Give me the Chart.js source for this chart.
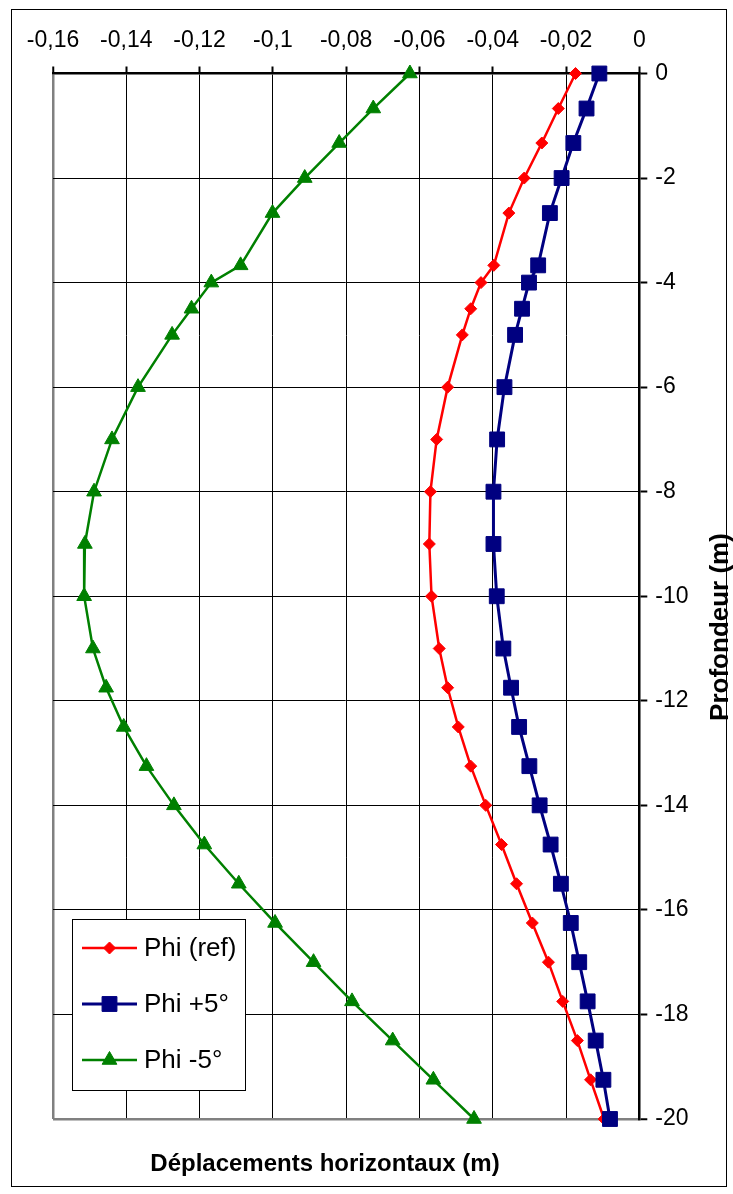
<!DOCTYPE html>
<html lang="fr">
<head>
<meta charset="utf-8">
<title>Déplacements horizontaux</title>
<script src="https://cdn.jsdelivr.net/npm/chart.js@4.4.1/dist/chart.umd.min.js"></script>
<style>
  html, body { margin: 0; padding: 0; background: #fff; }
  #wrap { width: 733px; height: 1194px; position: relative; }
  canvas { display: block; }
</style>
</head>
<body>
<div id="wrap"><canvas id="c" width="733" height="1194"></canvas></div>
<script>
// Profondeur (m) des points de calcul
const profondeurs = [0, -0.67, -1.33, -2, -2.67, -3.67, -4, -4.5, -5, -6, -7, -8, -9, -10, -11,
  -11.75, -12.5, -13.25, -14, -14.75, -15.5, -16.25, -17, -17.75, -18.5, -19.25, -20];

// Déplacements horizontaux (m) pour chaque variante d'angle de frottement
const phiRef = [-0.0174, -0.0221, -0.0266, -0.0314, -0.0356, -0.0397, -0.0432, -0.0460, -0.0483,
  -0.0523, -0.0553, -0.0570, -0.0573, -0.0567, -0.0546, -0.0523, -0.0494, -0.0460, -0.0419,
  -0.0376, -0.0335, -0.0292, -0.0248, -0.0209, -0.0169, -0.0133, -0.0096];
const phiPlus5 = [-0.0109, -0.0144, -0.0180, -0.0212, -0.0244, -0.0276, -0.0301, -0.0320, -0.0339,
  -0.0368, -0.0388, -0.0398, -0.0398, -0.0389, -0.0371, -0.0350, -0.0328, -0.0300, -0.0272,
  -0.0242, -0.0214, -0.0187, -0.0164, -0.0141, -0.0119, -0.0098, -0.0080];
const phiMoins5 = [-0.0626, -0.0726, -0.0819, -0.0913, -0.1001, -0.1088, -0.1168, -0.1222, -0.1275,
  -0.1368, -0.1439, -0.1488, -0.1513, -0.1515, -0.1491, -0.1455, -0.1407, -0.1345, -0.1270,
  -0.1187, -0.1093, -0.0994, -0.0889, -0.0784, -0.0673, -0.0562, -0.0451];

const seriesLabels = ['Phi (ref)', 'Phi +5°', 'Phi -5°'];
const xTitle = 'Déplacements horizontaux (m)';
const yTitle = 'Profondeur (m)';

const toPoints = vals => vals.map((v, i) => ({ x: v, y: profondeurs[i] }));

const FONT = '"Liberation Sans", Arial, Helvetica, sans-serif';

function drawMarker(ctx, style, radius, x, y) {
  if (Chart.helpers && Chart.helpers.drawPoint) {
    Chart.helpers.drawPoint(ctx, { pointStyle: style, radius: radius, rotation: 0, borderWidth: 1 }, x, y);
    return;
  }
  ctx.beginPath();
  if (style === 'rectRot') {
    ctx.moveTo(x, y - radius); ctx.lineTo(x + radius, y); ctx.lineTo(x, y + radius); ctx.lineTo(x - radius, y);
  } else if (style === 'rect') {
    const s = radius * Math.SQRT1_2;
    ctx.rect(x - s, y - s, 2 * s, 2 * s);
  } else {
    ctx.moveTo(x, y - radius);
    ctx.lineTo(x + radius * Math.cos(Math.PI / 6), y + radius / 2);
    ctx.lineTo(x - radius * Math.cos(Math.PI / 6), y + radius / 2);
  }
  ctx.closePath(); ctx.fill(); ctx.stroke();
}

// Cadre, titres des axes et légende encadrée
const decorations = {
  id: 'decorations',
  afterDraw(chart) {
    const ctx = chart.ctx;
    ctx.save();
    // cadre extérieur
    ctx.strokeStyle = '#000';
    ctx.lineWidth = 1;
    ctx.strokeRect(11.5, 9.5, 715, 1177);

    // titres
    ctx.fillStyle = '#000';
    ctx.font = 'bold 24px ' + FONT;
    ctx.textAlign = 'center';
    ctx.textBaseline = 'middle';
    ctx.fillText(xTitle, 325, 1164);
    ctx.save();
    ctx.translate(721, 627);
    ctx.rotate(-Math.PI / 2);
    ctx.font = 'bold 26px ' + FONT;
    ctx.fillText(yTitle, 0, 0);
    ctx.restore();

    // légende
    const bx = 72.5, by = 919.5, bw = 173, bh = 171;
    ctx.fillStyle = '#fff';
    ctx.fillRect(bx, by, bw, bh);
    ctx.strokeStyle = '#000';
    ctx.lineWidth = 1;
    ctx.strokeRect(bx, by, bw, bh);
    const rows = [948, 1004, 1060];
    chart.data.datasets.forEach((ds, i) => {
      const y = rows[i];
      ctx.strokeStyle = ds.borderColor;
      ctx.lineWidth = ds.borderWidth;
      ctx.beginPath();
      ctx.moveTo(82, y);
      ctx.lineTo(137, y);
      ctx.stroke();
      ctx.fillStyle = ds.pointBackgroundColor;
      ctx.strokeStyle = ds.pointBorderColor;
      ctx.lineWidth = 1;
      drawMarker(ctx, ds.pointStyle, ds.pointRadius, 109.5, y);
      ctx.fillStyle = '#000';
      ctx.font = '26px ' + FONT;
      ctx.textAlign = 'left';
      ctx.textBaseline = 'middle';
      ctx.fillText(ds.label, 144, y + 1);
    });
    ctx.restore();
  }
};

const isX = (v, t) => Math.abs(v - t) < 1e-9;

new Chart(document.getElementById('c'), {
  type: 'scatter',
  data: {
    datasets: [
      {
        label: seriesLabels[0], data: toPoints(phiRef), showLine: true,
        borderColor: '#ff0000', borderWidth: 2.5,
        pointStyle: 'rectRot', pointRadius: 6, pointBackgroundColor: '#ff0000', pointBorderColor: '#ff0000',
        pointBorderWidth: 1, clip: false, order: 3
      },
      {
        label: seriesLabels[1], data: toPoints(phiPlus5), showLine: true,
        borderColor: '#000080', borderWidth: 3,
        pointStyle: 'rect', pointRadius: 10.5, pointBackgroundColor: '#000080', pointBorderColor: '#000080',
        pointBorderWidth: 1, clip: false, order: 2
      },
      {
        label: seriesLabels[2], data: toPoints(phiMoins5), showLine: true,
        borderColor: '#008000', borderWidth: 2.5,
        pointStyle: 'triangle', pointRadius: 8.5, pointBackgroundColor: '#008000', pointBorderColor: '#008000',
        pointBorderWidth: 1, clip: false, order: 1
      }
    ]
  },
  options: {
    responsive: false,
    animation: false,
    events: [],
    layout: { padding: { left: 53, top: 0, right: 0, bottom: 75 } },
    plugins: { legend: { display: false }, tooltip: { enabled: false }, title: { display: false } },
    scales: {
      x: {
        type: 'linear', position: 'top', min: -0.16, max: 0,
        ticks: {
          stepSize: 0.02, color: '#000', padding: 12,
          font: { family: FONT, size: 23 },
          maxRotation: 0, autoSkip: false,
          callback: v => { const r = Math.round(v * 100) / 100; return r === 0 ? '0' : String(r).replace('.', ','); }
        },
        grid: {
          drawTicks: true, tickLength: 7, tickColor: '#000', tickWidth: 2,
          color: c => isX(c.tick.value, -0.16) ? '#808080' : '#000',
          lineWidth: c => isX(c.tick.value, -0.16) ? 2.5 : 1
        },
        border: { display: true, color: '#000', width: 2.5 },
        afterFit: s => { s.height = 73.5; }
      },
      y: {
        type: 'linear', position: 'right', min: -20, max: 0,
        ticks: {
          stepSize: 2, color: '#000', padding: 8,
          font: { family: FONT, size: 23 },
          callback: v => String(Math.round(v))
        },
        grid: {
          drawTicks: true, tickLength: 8, tickColor: '#000', tickWidth: 2,
          color: c => isX(c.tick.value, -20) ? '#808080' : '#000',
          lineWidth: c => isX(c.tick.value, -20) ? 2.5 : 1
        },
        border: { display: true, color: '#000', width: 2.5 },
        afterFit: s => { s.width = 93.7; }
      }
    }
  },
  plugins: [decorations]
});
</script>
</body>
</html>
